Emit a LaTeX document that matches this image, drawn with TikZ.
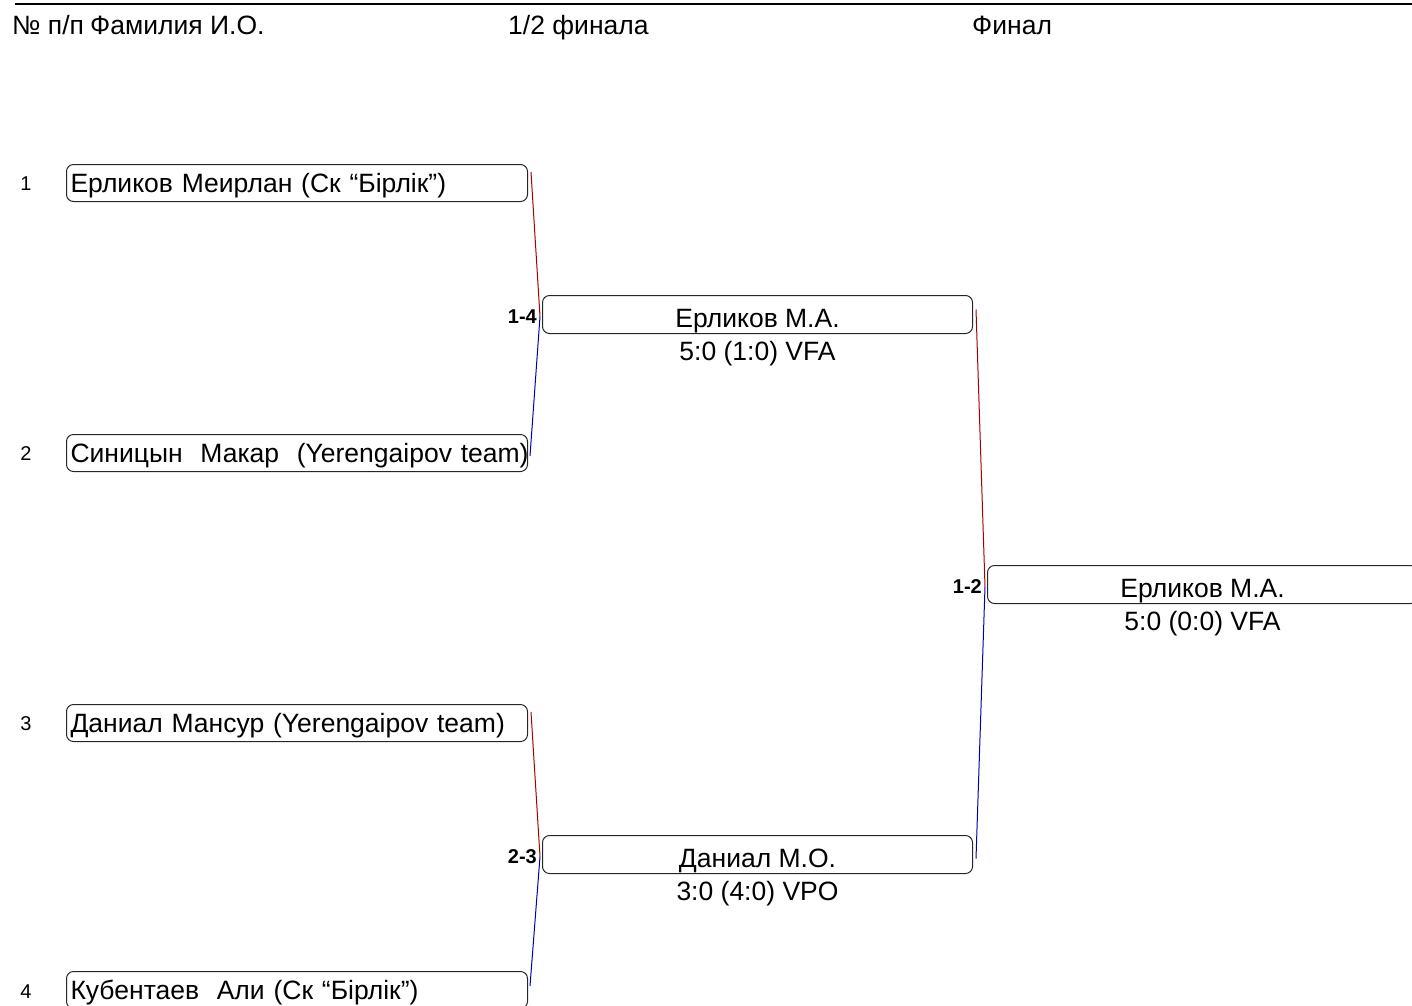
\documentclass[tikz,border=0pt]{standalone}
\usepackage{fontspec}
\setmainfont{Liberation Sans}
\begin{document}
\begin{tikzpicture}[x=1pt,y=-1pt,font=\fontsize{26.5}{31}\selectfont]

	\tikzset{
		player/.style={draw=black!85,line width=1pt,rounded corners=7pt,anchor=north west,
			minimum height=37pt,text width=453pt,text height=19pt,text depth=0pt,
			inner xsep=4pt,inner ysep=0pt,align=left},
		winner/.style={draw=black!85,line width=1pt,rounded corners=7pt,anchor=north west,
			minimum height=38pt,minimum width=430pt,text height=25pt,text depth=0pt,inner sep=0pt},
		seed/.style={font=\fontsize{20}{24}\selectfont},
		pair/.style={font=\bfseries\fontsize{20}{24}\selectfont,anchor=east,inner sep=0pt},
		result/.style={anchor=base},
		upper/.style={draw=red!65!black,line width=1pt},
		lower/.style={draw=blue!70!black,line width=1pt},
	}

	\useasboundingbox (0,0) rectangle (1412,1005);

	% header
	\draw[line width=2pt] (15,4) -- (1412,4);
	\node[anchor=base west,inner sep=0pt] (hnum)   at (12,34)  {№ п/п};
	\node[anchor=base west,inner sep=0pt] (hname)  at (90,34)  {Фамилия И.О.};
	\node[anchor=base west,inner sep=0pt] (hsemi)  at (508,34) {1/2 финала};
	\node[anchor=base west,inner sep=0pt] (hfinal) at (972,34) {Финал};

	% players
	\node[player] (p1) at (66,164) {\mbox{Ерликов Меирлан (Ск “Бірлік”)}};
	\node[player] (p2) at (66,434) {\mbox{Синицын\ \ Макар\ \ (Yerengaipov team)}};
	\node[player] (p3) at (66,704) {\mbox{Даниал Мансур (Yerengaipov team)}};
	\node[player] (p4) at (66,971) {\mbox{Кубентаев\ \ Али (Ск “Бірлік”)}};

	\node[seed] (n1) at (26,184) {1};
	\node[seed] (n2) at (26,454) {2};
	\node[seed] (n3) at (26,724) {3};
	\node[seed] (n4) at (26,992) {4};

	% 1/2 final
	\node[winner] (s1) at (542,295) {Ерликов М.А.};
	\node[result] (s1res) at ([yshift=-26pt]s1.south) {5:0 (1:0) VFA};
	\node[winner] (s2) at (542,835) {Даниал М.О.};
	\node[result] (s2res) at ([yshift=-26pt]s2.south) {3:0 (4:0) VPO};

	\node[pair] (l14) at ([xshift=-5pt,yshift=-2pt]s1.west) {1-4};
	\node[pair] (l23) at ([xshift=-5pt,yshift=-2pt]s2.west) {2-3};

	\draw[upper] ([xshift=3pt,yshift=11pt]p1.east) -- ([xshift=-2pt,yshift=-2pt]s1.west);
	\draw[lower] ([xshift=-2pt,yshift=-2pt]s1.west) -- ([xshift=2pt,yshift=-3pt]p2.east);
	\draw[upper] ([xshift=3pt,yshift=11pt]p3.east) -- ([xshift=-2pt,yshift=-2pt]s2.west);
	\draw[lower] ([xshift=-2pt,yshift=-2pt]s2.west) -- ([xshift=2pt,yshift=4pt]p4.east);

	% final
	\node[winner] (f) at (987,565) {Ерликов М.А.};
	\node[result] (fres) at ([yshift=-26pt]f.south) {5:0 (0:0) VFA};
	\node[pair] (l12) at ([xshift=-5pt,yshift=-2pt]f.west) {1-2};

	\draw[upper] ([xshift=3pt,yshift=5pt]s1.east) -- ([xshift=-2pt,yshift=-2pt]f.west);
	\draw[lower] ([xshift=-2pt,yshift=-2pt]f.west) -- ([xshift=3pt,yshift=-4pt]s2.east);

\end{tikzpicture}
\end{document}
